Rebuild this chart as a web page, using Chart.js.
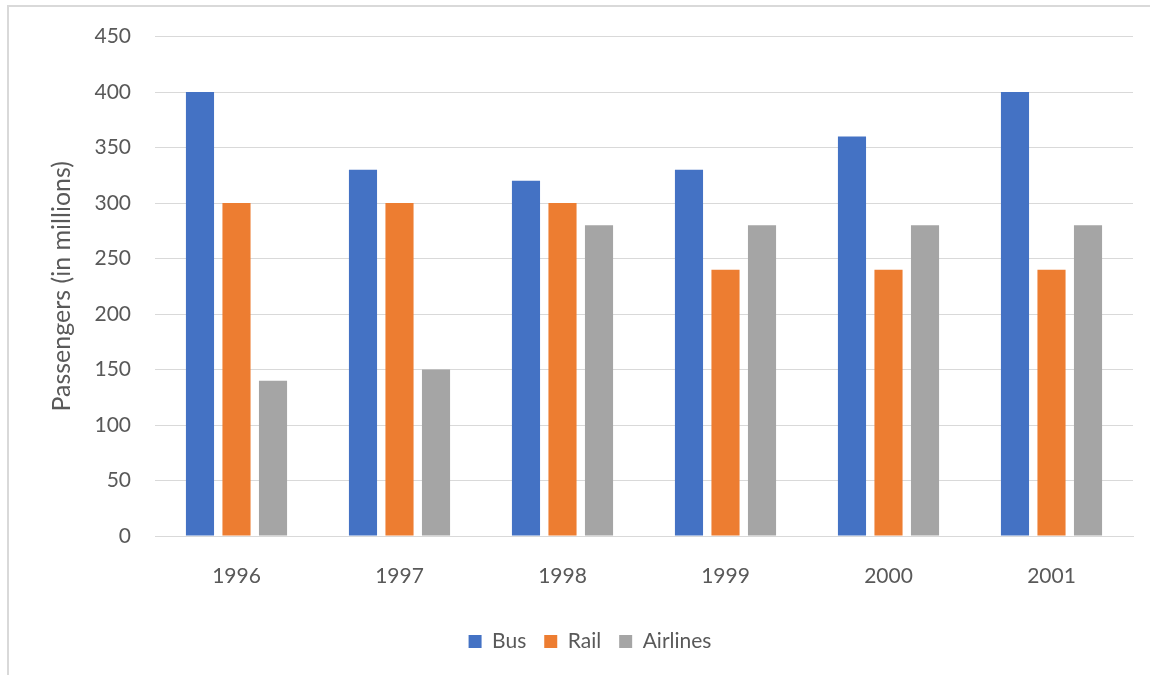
<!DOCTYPE html>
<html>
<head>
<meta charset="utf-8">
<script src="https://cdn.jsdelivr.net/npm/chart.js@4.4.0/dist/chart.umd.min.js"></script>
<style>
  html, body { margin: 0; padding: 0; background: #fff; }
  #wrap { position: absolute; left: 0; top: 0; width: 1150px; height: 675px; }
</style>
</head>
<body>
<div id="wrap"><canvas id="grafico" width="1150" height="675"></canvas></div>
<script>
// dados
const anos = ['1996', '1997', '1998', '1999', '2000', '2001'];
const bus = [400, 330, 320, 330, 360, 400];
const rail = [300, 300, 300, 240, 240, 240];
const airlines = [140, 150, 280, 280, 280, 280];
const yTicks = [0, 50, 100, 150, 200, 250, 300, 350, 400, 450];

const corTexto = '#595959';
const corGrade = '#d9d9d9';
const fonte = 'Lato, "Open Sans", sans-serif';

// moldura cinza (só topo e esquerda aparecem)
const moldura = {
  id: 'moldura',
  beforeDraw(chart) {
    const ctx = chart.ctx;
    ctx.save();
    ctx.fillStyle = '#fff';
    ctx.fillRect(0, 0, chart.width, chart.height);
    ctx.strokeStyle = corGrade;
    ctx.lineWidth = 2;
    ctx.beginPath();
    ctx.moveTo(8, chart.height);
    ctx.lineTo(8, 6);
    ctx.lineTo(chart.width, 6);
    ctx.stroke();
    ctx.restore();
  }
};

const serie = (label, data, cor) => ({
  label, data,
  backgroundColor: cor,
  borderWidth: 0,
  categoryPercentage: 0.672,
  barPercentage: 0.77
});

new Chart(document.getElementById('grafico').getContext('2d'), {
  type: 'bar',
  data: {
    labels: anos,
    datasets: [
      serie('Bus', bus, '#4472c4'),
      serie('Rail', rail, '#ed7d31'),
      serie('Airlines', airlines, '#a5a5a5')
    ]
  },
  options: {
    responsive: false,
    animation: false,
    // padding esquerdo centraliza a legenda como no original
    layout: { padding: { left: 47, right: 17, top: 36, bottom: 13 } },
    plugins: {
      legend: {
        position: 'bottom',
        labels: {
          color: corTexto,
          font: { family: fonte, size: 21 },
          boxWidth: 13,
          boxHeight: 13,
          padding: 18
        }
      },
      tooltip: { enabled: false }
    },
    scales: {
      x: {
        grid: { display: false, drawTicks: false },
        border: { display: true, color: corGrade, width: 1 },
        ticks: { color: corTexto, font: { family: fonte, size: 21 }, padding: 28 },
        afterFit(scale) { scale.height = 77; }
      },
      y: {
        min: 0,
        max: 450,
        afterBuildTicks(scale) { scale.ticks = yTicks.map(v => ({ value: v })); },
        grid: { color: corGrade, lineWidth: 1, drawTicks: false },
        border: { display: false },
        ticks: { color: corTexto, font: { family: fonte, size: 21 }, padding: 24 },
        title: {
          display: true,
          text: 'Passengers (in millions)',
          color: corTexto,
          font: { family: fonte, size: 25 },
          padding: { top: 0, bottom: 0 }
        },
        afterFit(scale) { scale.width = 108; }
      }
    }
  },
  plugins: [moldura]
});
</script>
</body>
</html>
